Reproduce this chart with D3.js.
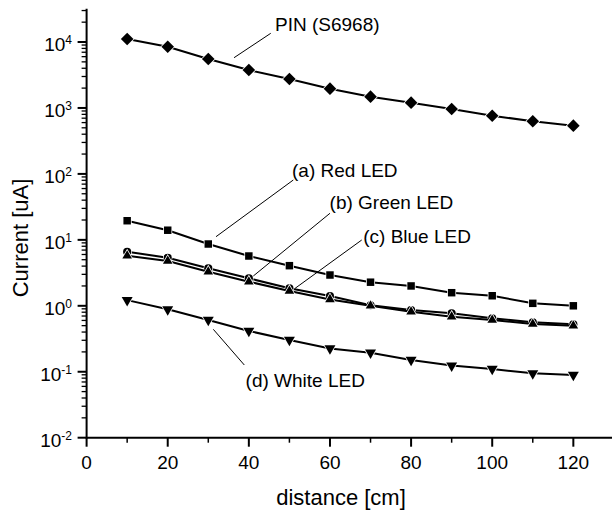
<!DOCTYPE html>
<html>
<head>
<meta charset="utf-8">
<script src="https://cdn.jsdelivr.net/npm/d3@7"></script>
<style>
  body { margin: 0; background: #fff; }
  text { font-family: "Liberation Sans", Arial, sans-serif; fill: #000; }
</style>
</head>
<body>
<div id="chart"></div>
<script>
(function(){
    var width = 612, height = 513;

    // distance [cm]
    var distances = [10, 20, 30, 40, 50, 60, 70, 80, 90, 100, 110, 120];
    // current [uA]
    var pinVals   = [11100, 8490, 5520, 3760, 2750, 1960, 1482, 1202, 964, 763, 628, 539];
    var redVals   = [19.5, 14.0, 8.65, 5.69, 4.06, 2.93, 2.28, 2.0, 1.58, 1.42, 1.09, 1.0];
    var greenVals = [6.6, 5.36, 3.70, 2.61, 1.84, 1.41, 1.02, 0.863, 0.769, 0.646, 0.562, 0.524];
    var blueVals  = [5.75, 4.77, 3.29, 2.32, 1.68, 1.25, 1.0, 0.814, 0.684, 0.61, 0.53, 0.499];
    var whiteVals = [1.22, 0.885, 0.609, 0.415, 0.303, 0.226, 0.194, 0.151, 0.124, 0.110, 0.0946, 0.0893];

    var xTicks = [0, 20, 40, 60, 80, 100, 120];
    var yExponents = [-2, -1, 0, 1, 2, 3, 4];
    var seriesNames = ["PIN (S6968)", "(a) Red LED", "(b) Green LED", "(c) Blue LED", "(d) White LED"];

    var series = [
        {name: seriesNames[0], values: pinVals,   shape: "diamond"},
        {name: seriesNames[1], values: redVals,   shape: "square"},
        {name: seriesNames[2], values: greenVals, shape: "circle"},
        {name: seriesNames[3], values: blueVals,  shape: "triangle"},
        {name: seriesNames[4], values: whiteVals, shape: "down"}
    ];

    // label text start + leader line ends, in data units
    var notes = [
        {tx: 46.45, ty: 14690, x1: 45.4, y1: 13550, x2: 36.35, y2: 5780},
        {tx: 50.64, ty: 90.7,  x1: 50.96, y1: 80.8, x2: 31.9, y2: 11.16},
        {tx: 59.9,  ty: 29.05, x1: 60.0, y1: 25.3,  x2: 41.1, y2: 2.83},
        {tx: 68.2,  ty: 9.05,  x1: 67.83, y1: 9.95, x2: 51.4, y2: 1.84},
        {tx: 39.2,  ty: 0.0581, x1: 31.24, y1: 0.440, x2: 38.88, y2: 0.1266}
    ];

    var svg = d3.select('#chart')
    .append("svg")
    .attr("width", width)
    .attr("height", height);

    var x = d3.scaleLinear().domain([0, 130]).range([86.6, 613.9]);
    var y = d3.scaleLog().domain([0.01, 32000]).range([437.7, 8.7]);

    // minor ticks
    var xMinor = d3.range(10, 130, 20);
    var yMinor = [];
    yExponents.forEach(function(e){
        for (var k = 2; k <= 9; k++) {
            var v = k * Math.pow(10, e);
            if (v <= 32000) yMinor.push(v);
        }
    });

    var axes = svg.append("g").attr("stroke", "#000").attr("fill", "none");

    axes.append("line")
    .attr("x1", x(0)).attr("x2", x(130))
    .attr("y1", y(0.01)).attr("y2", y(0.01))
    .attr("stroke-width", 2);
    axes.append("line")
    .attr("x1", x(0)).attr("x2", x(0))
    .attr("y1", y(0.01) + 1).attr("y2", y(32000))
    .attr("stroke-width", 2);

    axes.selectAll(".xmaj").data(xTicks).enter().append("line")
    .attr("x1", function(d){ return x(d); }).attr("x2", function(d){ return x(d); })
    .attr("y1", y(0.01)).attr("y2", y(0.01) + 9)
    .attr("stroke-width", 2);
    axes.selectAll(".xmin").data(xMinor).enter().append("line")
    .attr("x1", function(d){ return x(d); }).attr("x2", function(d){ return x(d); })
    .attr("y1", y(0.01)).attr("y2", y(0.01) + 5)
    .attr("stroke-width", 1.5);

    axes.selectAll(".ymaj").data(yExponents).enter().append("line")
    .attr("x1", x(0) - 9).attr("x2", x(0))
    .attr("y1", function(d){ return y(Math.pow(10, d)); })
    .attr("y2", function(d){ return y(Math.pow(10, d)); })
    .attr("stroke-width", 2);
    axes.selectAll(".ymin").data(yMinor).enter().append("line")
    .attr("x1", x(0) - 5).attr("x2", x(0))
    .attr("y1", function(d){ return y(d); })
    .attr("y2", function(d){ return y(d); })
    .attr("stroke-width", 1.3);

    svg.selectAll(".xlab").data(xTicks).enter().append("text")
    .attr("x", function(d){ return x(d); })
    .attr("y", y(0.01) + 31.5)
    .attr("text-anchor", "middle")
    .style("font-size", "19px")
    .text(function(d){ return d; });

    var ylab = svg.selectAll(".ylab").data(yExponents).enter().append("text")
    .attr("x", 72)
    .attr("y", function(d){ return y(Math.pow(10, d)) + 9; })
    .attr("text-anchor", "end")
    .style("font-size", "19px");
    ylab.append("tspan").text("10");
    ylab.append("tspan")
    .attr("dy", -7)
    .style("font-size", "12px")
    .text(function(d){ return d; });

    svg.append("text")
    .attr("x", 341).attr("y", 505)
    .attr("text-anchor", "middle")
    .style("font-size", "22px")
    .text("distance [cm]");

    svg.append("text")
    .attr("transform", "translate(28,238) rotate(-90)")
    .attr("text-anchor", "middle")
    .style("font-size", "22px")
    .text("Current [uA]");

    // leader lines + labels
    svg.selectAll(".lead").data(notes).enter().append("line")
    .attr("x1", function(d){ return x(d.x1); }).attr("y1", function(d){ return y(d.y1); })
    .attr("x2", function(d){ return x(d.x2); }).attr("y2", function(d){ return y(d.y2); })
    .attr("stroke", "#000").attr("stroke-width", 1);
    svg.selectAll(".note").data(notes).enter().append("text")
    .attr("x", function(d){ return x(d.tx); })
    .attr("y", function(d){ return y(d.ty); })
    .style("font-size", "19px")
    .text(function(d, i){ return seriesNames[i]; });

    var line = d3.line()
    .x(function(d){ return x(d[0]); })
    .y(function(d){ return y(d[1]); });

    var symbols = {
        diamond:  {type: d3.symbolSquare, size: 80, rot: 45},
        square:   {type: d3.symbolSquare, size: 56, rot: 0},
        circle:   {type: d3.symbolCircle, size: 52, rot: 0},
        triangle: {type: d3.symbolTriangle, size: 40, rot: 0},
        down:     {type: d3.symbolTriangle, size: 52, rot: 180}
    };

    series.forEach(function(s){
        var pts = distances.map(function(d, i){ return [d, s.values[i]]; });
        var g = svg.append("g");
        g.append("path")
        .attr("d", line(pts))
        .attr("fill", "none")
        .attr("stroke", "#000")
        .attr("stroke-width", 2);
        var sym = symbols[s.shape];
        g.selectAll("path.mark").data(pts).enter().append("path")
        .attr("class", "mark")
        .attr("d", d3.symbol().type(sym.type).size(sym.size))
        .attr("transform", function(d){
            return "translate(" + x(d[0]) + "," + y(d[1]) + ") rotate(" + sym.rot + ")";
        })
        .attr("fill", "#000")
        .attr("stroke", "#fff")
        .attr("stroke-width", 1.5)
        .attr("paint-order", "stroke");
    });
})();
</script>
</body>
</html>
